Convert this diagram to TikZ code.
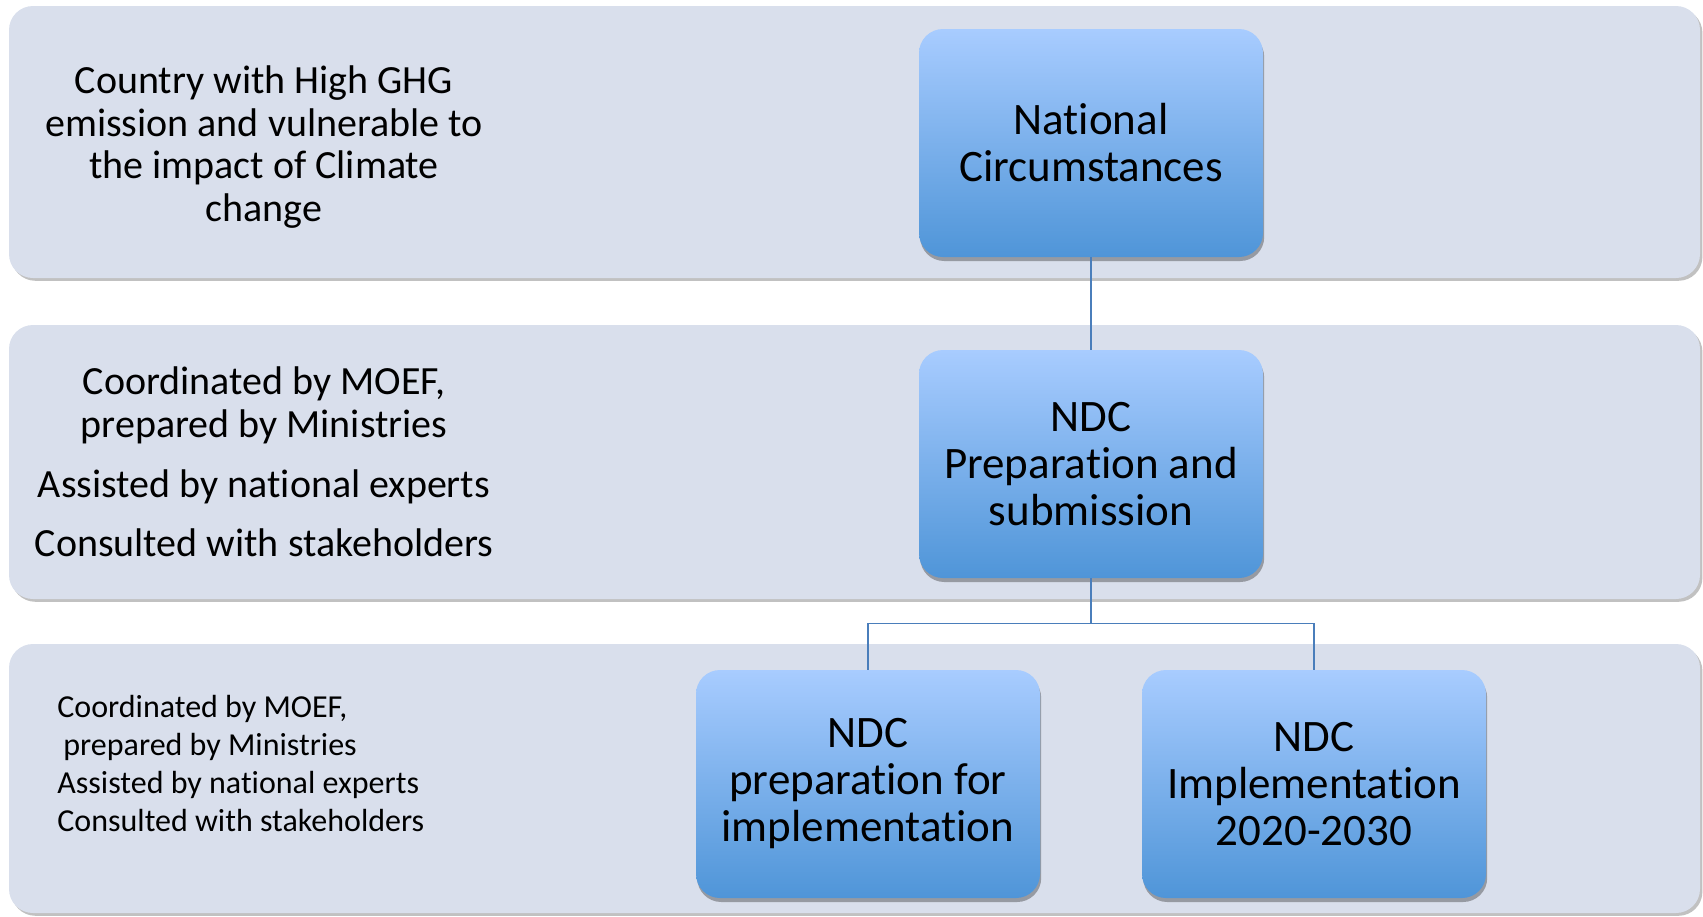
\documentclass[tikz,border=0pt]{standalone}
\usepackage{fontspec}
\setmainfont{Carlito}[Ligatures=NoCommon]
\usepackage{tikz}
\usetikzlibrary{positioning, shadows}

\definecolor{bandfill}{HTML}{D9DFEC}
\definecolor{boxtop}{HTML}{A8CCFF}
\definecolor{boxbot}{HTML}{4F95D8}
\definecolor{linkblue}{HTML}{4A7EBB}

\begin{document}
\begin{tikzpicture}[x=0.5pt, y=-0.5pt,
    band/.style={fill=bandfill, rounded corners=12pt,
      drop shadow={shadow xshift=1.2pt, shadow yshift=-1.4pt, opacity=0.35, fill=black!70}},
    stage/.style={rounded corners=12pt, top color=boxtop, bottom color=boxbot,
      minimum width=172pt, minimum height=114pt, inner sep=0pt, align=center,
      font=\fontsize{22.5}{23.5}\selectfont,
      drop shadow={shadow xshift=0.6pt, shadow yshift=-2pt, opacity=0.4, fill=black!80}},
    note/.style={align=center, inner sep=0pt, font=\fontsize{20}{21.3}\selectfont},
    small/.style={align=left, inner sep=0pt, anchor=west, font=\fontsize{16}{19}\selectfont},
    link/.style={draw=linkblue, line width=0.75pt}
  ]
  \useasboundingbox (0,0) rectangle (1703,916);

  % -- 1. BANDS (one per level) --
  \path[band] (9,6) rectangle (1700,278);
  \path[band] (9,325) rectangle (1700,599);
  \path[band] (9,644) rectangle (1700,913);

  % -- 2. STAGES --
  \node[stage] (circ) at (1091,143) {National\\Circumstances};
  \node[stage] (prep) at (1091,464) {NDC\\Preparation and\\submission};
  \node[stage] (ready) at (868,784) {NDC\\preparation for\\implementation};
  \node[stage] (impl) at (1314,784) {NDC\\Implementation\\2020-2030};

  % Connectors
  \draw[link] (circ.south) -- (prep.north);
  \draw[link] (prep.south) -- ++(0,45) -| (ready.north);
  \draw[link] (prep.south) -- ++(0,45) -| (impl.north);

  % -- 3. NOTES ON THE LEFT --
  \node[note] (why) at (264,147)
    {Country with High GHG\\emission and vulnerable to\\the impact of Climate\\change};
  \node[note] (who) at (264,462)
    {Coordinated by MOEF,\\prepared by Ministries\\[8.5pt]
     Assisted by national experts\\[8.5pt]
     Consulted with stakeholders};
  \node[small] (how) at (57,763)
    {Coordinated by MOEF,\\\hspace{3pt}prepared by Ministries\\
     Assisted by national experts\\Consulted with stakeholders};
\end{tikzpicture}
\end{document}
